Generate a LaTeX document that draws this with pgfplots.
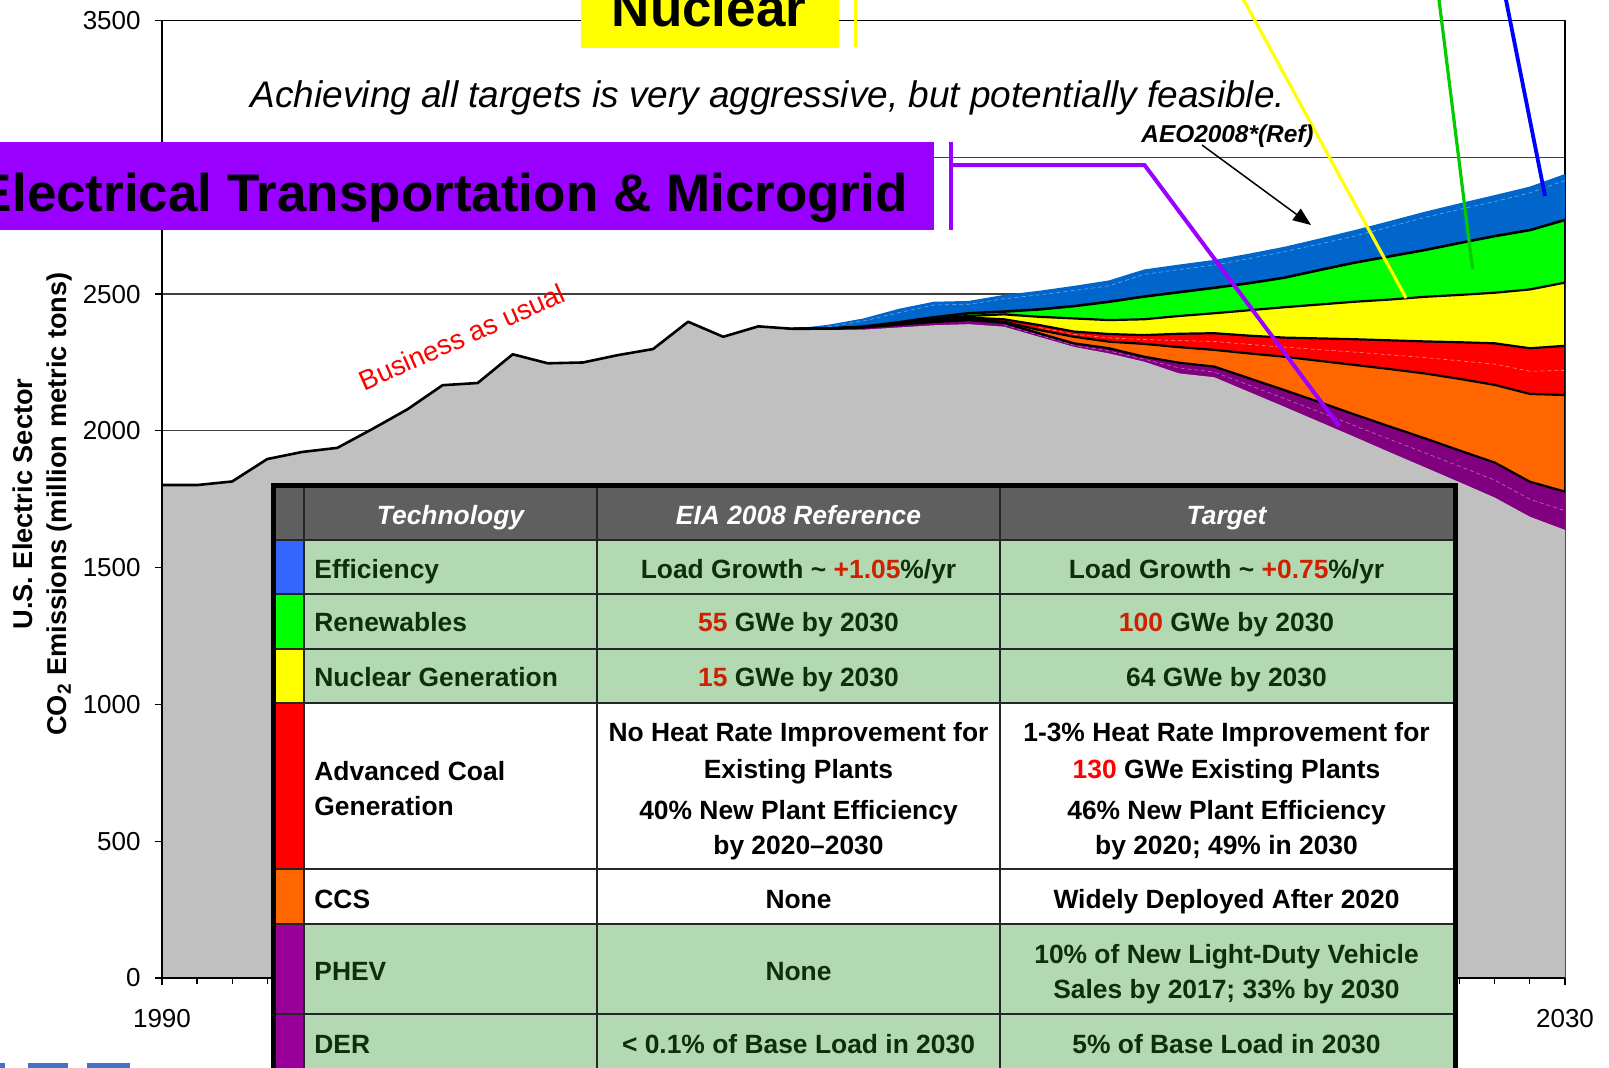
\documentclass[border=0pt]{standalone}
\usepackage{pgfplots}
\usepackage{pgfplotstable}
\pgfplotsset{compat=1.18}
\usepackage{fontspec}
\setmainfont{Liberation Sans}
\usetikzlibrary{arrows.meta}

\definecolor{bandblue}{HTML}{0066CC}
\definecolor{bandgreen}{HTML}{00FF00}
\definecolor{bandyellow}{HTML}{FFFF00}
\definecolor{bandred}{HTML}{FF0000}
\definecolor{bandorange}{HTML}{FF6600}
\definecolor{bandpurple}{HTML}{800080}
\definecolor{bandgray}{HTML}{C0C0C0}
\definecolor{swblue}{HTML}{3366FF}
\definecolor{swpurple}{HTML}{990099}
\definecolor{hdrgray}{HTML}{5F5F5F}
\definecolor{tabgreen}{HTML}{B3D9B3}
\definecolor{txtgreen}{HTML}{0B300B}
\definecolor{numred}{HTML}{CC2200}
\definecolor{boxpurple}{HTML}{9900FF}
\definecolor{ptrgreen}{HTML}{00CC00}
\definecolor{ptrblue}{HTML}{0000FF}
\definecolor{logoblue}{HTML}{4472C4}

\pgfplotstableread{
year gray ptop otop rtop ytop gtop btop
1990 1802 1802 1802 1802 1802 1802 1802
1991 1802 1802 1802 1802 1802 1802 1802
1992 1815 1815 1815 1815 1815 1815 1815
1993 1897 1897 1897 1897 1897 1897 1897
1994 1923 1923 1923 1923 1923 1923 1923
1995 1938 1938 1938 1938 1938 1938 1938
1996 2007 2007 2007 2007 2007 2007 2007
1997 2079 2079 2079 2079 2079 2079 2079
1998 2167 2167 2167 2167 2167 2167 2167
1999 2175 2175 2175 2175 2175 2175 2175
2000 2280 2280 2280 2280 2280 2280 2280
2001 2247 2247 2247 2247 2247 2247 2247
2002 2250 2250 2250 2250 2250 2250 2250
2003 2277 2277 2277 2277 2277 2277 2277
2004 2299 2299 2299 2299 2299 2299 2299
2005 2399 2399 2399 2399 2399 2399 2399
2006 2344 2344 2344 2344 2344 2344 2344
2007 2382 2382 2382 2382 2382 2382 2382
2008 2368 2373 2373 2373 2373 2373 2373
2009 2368 2374 2374 2374 2374 2374 2388
2010 2370 2378 2379 2380 2380 2381 2411
2011 2378 2388 2390 2392 2395 2397 2446
2012 2386 2398 2402 2406 2410 2415 2472
2013 2390 2405 2410 2414 2420 2430 2475
2014 2381 2395 2399 2408 2426 2436 2497
2015 2344 2357 2369 2387 2417 2444 2512
2016 2307 2320 2344 2363 2411 2456 2530
2017 2283 2302 2326 2354 2405 2472 2550
2018 2253 2271 2318 2350 2408 2491 2590
2019 2210 2249 2306 2355 2420 2507 2608
2020 2196 2235 2296 2357 2430 2523 2625
2021 2142 2192 2283 2348 2441 2540 2648
2022 2088 2149 2271 2341 2452 2560 2673
2023 2033 2105 2256 2338 2462 2588 2703
2024 1978 2060 2241 2335 2472 2615 2734
2025 1922 2016 2226 2331 2480 2638 2767
2026 1867 1973 2210 2327 2490 2661 2801
2027 1812 1928 2190 2324 2497 2687 2832
2028 1756 1884 2168 2320 2505 2712 2862
2029 1686 1814 2135 2302 2517 2734 2893
2030 1638 1778 2131 2311 2542 2771 2939
}\emis

\pgfplotstableread{
year bdash
2009 2381
2010 2402
2011 2432
2012 2460
2013 2463
2014 2483
2015 2497
2016 2513
2017 2530
2018 2572
2019 2590
2020 2606
2021 2630
2022 2655
2023 2683
2024 2712
2025 2746
2026 2780
2027 2810
2028 2838
2029 2870
2030 2915
}\bluedash

\pgfplotstableread{
year rdash
2015 2378
2016 2353
2017 2340
2018 2334
2019 2330
2020 2327
2021 2316
2022 2306
2023 2297
2024 2288
2025 2278
2026 2268
2027 2256
2028 2244
2029 2218
2030 2221
}\reddash

\pgfplotstableread{
year pdash
2014 2388
2015 2350
2016 2313
2017 2292
2018 2262
2019 2230
2020 2215
2021 2167
2022 2118
2023 2069
2024 2019
2025 1969
2026 1920
2027 1870
2028 1820
2029 1750
2030 1708
}\purpdash

\newcommand\tabfont{\fontsize{13.2}{16}\selectfont\bfseries}

\begin{document}
\begin{tikzpicture}
\path[use as bounding box] (0,0) rectangle (804.5pt,-533.5pt);
\clip (0,0) rectangle (804.5pt,-533.5pt);

\begin{axis}[
  at={(81pt,-489pt)}, anchor=south west,
  scale only axis, width=701.5pt, height=478.75pt,
  xmin=1990, xmax=2030, ymin=0, ymax=3500,
  xtick={1990,2030}, minor xtick={1991,...,2029},
  ytick={0,500,...,3500},
  xtick pos=left, ytick pos=left,
  tick align=outside,
  major tick length=3.5pt, minor tick length=3.2pt,
  every tick/.style={black, line width=0.6pt},
  minor tick style={black, line width=0.6pt},
  ymajorgrids, grid style={black!75, line width=0.6pt},
  axis line style={black, line width=0.6pt},
  /pgf/number format/1000 sep={},
  /pgf/number format/assume math mode=true,
  tick label style={font=\fontsize{13}{13}\selectfont},
  xticklabel style={anchor=north, inner sep=0pt, yshift=-12pt},
  yticklabel style={anchor=east, inner sep=0pt, xshift=-7pt},
  line join=round,
]
\addplot[fill=bandblue, draw=none] table[x=year, y=btop]{\emis} \closedcycle;
\addplot[fill=bandgreen, draw=none] table[x=year, y=gtop]{\emis} \closedcycle;
\addplot[fill=bandyellow, draw=none] table[x=year, y=ytop]{\emis} \closedcycle;
\addplot[fill=bandred, draw=none] table[x=year, y=rtop]{\emis} \closedcycle;
\addplot[fill=bandorange, draw=none] table[x=year, y=otop]{\emis} \closedcycle;
\addplot[fill=bandpurple, draw=none] table[x=year, y=ptop]{\emis} \closedcycle;
\addplot[fill=bandgray, draw=none] table[x=year, y=gray]{\emis} \closedcycle;

\addplot[white!45!bandblue, dash pattern=on 2pt off 1.5pt, line width=0.3pt] table[x=year, y=bdash]{\bluedash};
\addplot[white!55!bandred, dash pattern=on 2pt off 1.5pt, line width=0.3pt] table[x=year, y=rdash]{\reddash};
\addplot[white!45!bandpurple, dash pattern=on 2pt off 1.5pt, line width=0.3pt] table[x=year, y=pdash]{\purpdash};

\addplot[black, line width=1.1pt, restrict x to domain=2008:2030] table[x=year, y=ptop]{\emis};
\addplot[black, line width=1.1pt, restrict x to domain=2008:2030] table[x=year, y=otop]{\emis};
\addplot[black, line width=1.1pt, restrict x to domain=2008:2030] table[x=year, y=rtop]{\emis};
\addplot[black, line width=1.1pt, restrict x to domain=2008:2030] table[x=year, y=ytop]{\emis};
\addplot[black, line width=1.3pt] table[x=year, y=gtop]{\emis};
\addplot[black, line width=1.1pt] coordinates {(2030,1778) (2030,2771)};

\draw[black, line width=0.6pt] (rel axis cs:0,0) -- (rel axis cs:1,0);
\draw[black, line width=0.6pt] (rel axis cs:0,0) -- (rel axis cs:0,1);
\end{axis}

\begin{scope}[x=0.5pt, y=-0.5pt]
% Nuclear box
\fill[bandyellow] (581,-10) rectangle (839,47.5);
\node[anchor=base, inner sep=0pt, font=\fontsize{26.5}{26.5}\selectfont\bfseries] at (709,26) {Nuclear};
\draw[bandyellow, line width=1.5pt] (855,-5) -- (855,47);

% title
\node[anchor=base, inner sep=0pt, font=\fontsize{18.5}{18.5}\selectfont\itshape] at (768,107.5) {Achieving all targets is very aggressive, but potentially feasible.};

% purple box
\fill[boxpurple] (-5,142) rectangle (934,230);
\node[anchor=base east, inner sep=0pt, font=\fontsize{26.5}{26.5}\selectfont\bfseries] at (908,211) {Electrical Transportation \& Microgrid};
\draw[boxpurple, line width=2pt] (950.5,142) -- (950.5,230);
\draw[boxpurple, line width=2pt, line join=miter] (950.5,165) -- (1144.5,165) -- (1339,426);

% pointer lines
\draw[bandyellow, line width=1.6pt] (1241,-5) -- (1406,298);
\draw[ptrgreen, line width=1.6pt] (1438.4,-5) -- (1472.5,269);
\draw[ptrblue, line width=1.9pt] (1505,-5) -- (1545,196);

% AEO label and arrow
\node[inner sep=0pt, font=\fontsize{12.2}{12.2}\selectfont\bfseries\itshape] at (1227.5,136.5) {AEO2008*(Ref)};
\draw[black, line width=0.75pt, -{Triangle[length=9pt, width=7pt]}] (1202,145) -- (1311,225);

% business as usual
\node[rotate=24, text=red, inner sep=0pt, font=\fontsize{13.8}{13.8}\selectfont] at (462,337) {Business as usual};

% y label
\node[rotate=90, align=center, inner sep=0pt, font=\fontsize{13.6}{17}\selectfont\bfseries] at (42.5,504) {U.S. Electric Sector\\CO\textsubscript{2} Emissions (million metric tons)};

% logo fragments
\fill[logoblue] (0,1063) rectangle (5,1070);
\fill[logoblue] (28,1063) rectangle (68,1070);
\fill[logoblue] (87,1063) rectangle (130,1070);

% ---- table ----
\fill[hdrgray] (275,488) rectangle (1453,540);
\fill[tabgreen] (304,540) rectangle (1453,703);
\fill[white] (304,703) rectangle (1453,924);
\fill[tabgreen] (304,924) rectangle (1453,1075);
\fill[swblue] (275,540) rectangle (304,594);
\fill[bandgreen] (275,594) rectangle (304,649);
\fill[bandyellow] (275,649) rectangle (304,703);
\fill[bandred] (275,703) rectangle (304,869);
\fill[bandorange] (275,869) rectangle (304,924);
\fill[swpurple] (275,924) rectangle (304,1075);
\foreach \yy in {540,594,649,703,869,924,1014}{
  \draw[black!85, line width=1pt] (275,\yy) -- (1453,\yy);
}
\foreach \xx in {304,597,1000}{
  \draw[black!85, line width=1pt] (\xx,488) -- (\xx,1075);
}
\draw[black, line width=2.5pt] (273.5,1080) -- (273.5,485.5) -- (1455,485.5) -- (1455,1080);

\tikzset{tt/.style={anchor=base, inner sep=0pt, font=\tabfont}}
\tikzset{tl/.style={anchor=base west, inner sep=0pt, font=\tabfont}}
% header
\node[tt, text=white, font=\tabfont\itshape] at (450.5,524.5) {Technology};
\node[tt, text=white, font=\tabfont\itshape] at (798.5,524.5) {EIA 2008 Reference};
\node[tt, text=white, font=\tabfont\itshape] at (1226.5,524.5) {Target};
% efficiency
\node[tl, text=txtgreen] at (314,578) {Efficiency};
\node[tt, text=txtgreen] at (798.5,578) {Load Growth \textasciitilde{} \textcolor{numred}{+1.05}\%/yr};
\node[tt, text=txtgreen] at (1226.5,578) {Load Growth \textasciitilde{} \textcolor{numred}{+0.75}\%/yr};
% renewables
\node[tl, text=txtgreen] at (314,631.5) {Renewables};
\node[tt, text=txtgreen] at (798.5,631.5) {\textcolor{numred}{55} GWe by 2030};
\node[tt, text=txtgreen] at (1226.5,631.5) {\textcolor{numred}{100} GWe by 2030};
% nuclear
\node[tl, text=txtgreen] at (314,686.5) {Nuclear Generation};
\node[tt, text=txtgreen] at (798.5,686.5) {\textcolor{numred}{15} GWe by 2030};
\node[tt, text=txtgreen] at (1226.5,686.5) {64 GWe by 2030};
% advanced coal
\node[tl] at (314,780.5) {Advanced Coal};
\node[tl] at (314,815.5) {Generation};
\node[tt] at (798.5,741.5) {No Heat Rate Improvement for};
\node[tt] at (798.5,778) {Existing Plants};
\node[tt] at (798.5,819) {40\% New Plant Efficiency};
\node[tt] at (798.5,854) {by 2020--2030};
\node[tt] at (1226.5,741.5) {1-3\% Heat Rate Improvement for};
\node[tt] at (1226.5,778) {\textcolor{red}{130} GWe Existing Plants};
\node[tt] at (1226.5,819) {46\% New Plant Efficiency};
\node[tt] at (1226.5,854) {by 2020; 49\% in 2030};
% CCS
\node[tl] at (314,908.5) {CCS};
\node[tt] at (798.5,908.5) {None};
\node[tt] at (1226.5,908.5) {Widely Deployed After 2020};
% PHEV
\node[tl, text=txtgreen] at (314,980.5) {PHEV};
\node[tt, text=txtgreen] at (798.5,980.5) {None};
\node[tt, text=txtgreen] at (1226.5,963.5) {10\% of New Light-Duty Vehicle};
\node[tt, text=txtgreen] at (1226.5,998.5) {Sales by 2017; 33\% by 2030};
% DER
\node[tl, text=txtgreen] at (314,1053) {DER};
\node[tt, text=txtgreen] at (798.5,1053) {\textless{} 0.1\% of Base Load in 2030};
\node[tt, text=txtgreen] at (1226.5,1053) {5\% of Base Load in 2030};
\end{scope}
\end{tikzpicture}
\end{document}
